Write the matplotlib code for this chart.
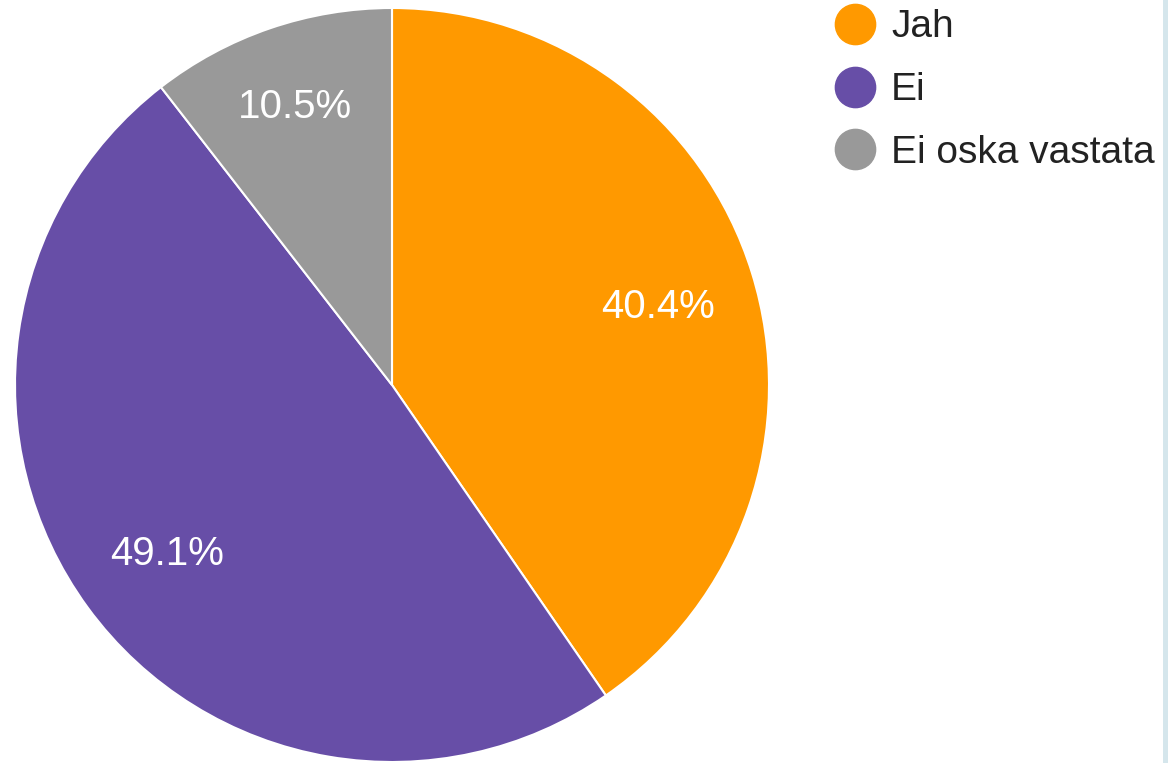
#!/usr/bin/env python3
# Pie chart of survey answers (Jah / Ei / Ei oska vastata) with a
# circle-marker legend on the right.

import matplotlib
matplotlib.use("Agg")
from matplotlib import pyplot as plt
from matplotlib.lines import Line2D
from matplotlib.patches import Rectangle

plt.rcParams["font.family"] = ["Liberation Sans", "DejaVu Sans"]

CATEGORIES = ["Jah", "Ei", "Ei oska vastata"]
SHARES = [40.4, 49.1, 10.5]
COLORS = ["#ff9900", "#674ea7", "#999999"]

W, H = 1168, 763


def main():
    fig = plt.figure(figsize=(W / 100, H / 100), dpi=100)
    fig.patch.set_facecolor("white")

    # pie centre at (392, 385) px from top-left, radius 377 px
    cx, cy, r = 392, 385, 377
    ax = fig.add_axes([(cx - r) / W, (H - cy - r) / H, 2 * r / W, 2 * r / H])
    wedges, texts, autotexts = ax.pie(
        SHARES, colors=COLORS, startangle=90, counterclock=False,
        autopct="%.1f%%", pctdistance=0.74, radius=1.0,
        wedgeprops={"edgecolor": "white", "linewidth": 1.5},
        textprops={"color": "white", "fontsize": 29})
    # labels sit slightly low in the reference
    for t in autotexts:
        x, y = t.get_position()
        t.set_position((x, y - 0.012))
    # small slice label sits a bit further out
    x, y = autotexts[2].get_position()
    autotexts[2].set_position((x * 1.07, y * 1.07))
    ax.set_xlim(-1, 1)
    ax.set_ylim(-1, 1)
    ax.set_aspect("equal")
    ax.axis("off")

    handles = [Line2D([], [], marker="o", linestyle="none", markersize=29,
                      markerfacecolor=c, markeredgecolor=c) for c in COLORS]
    fig.legend(handles, CATEGORIES, loc="upper left",
               bbox_to_anchor=(812 / W, 1 + 10 / H), frameon=False,
               fontsize=28, labelcolor="#222222", handletextpad=0.33,
               labelspacing=0.69, borderpad=0, handlelength=1.2)

    # light blue strip on the right edge
    fig.patches.append(Rectangle((1163 / W, 0), 5 / W, 1,
                                 transform=fig.transFigure,
                                 facecolor="#d5e6ec", edgecolor="none"))

    fig.savefig("out.png", dpi=100)
    plt.close(fig)


if __name__ == "__main__":
    main()
